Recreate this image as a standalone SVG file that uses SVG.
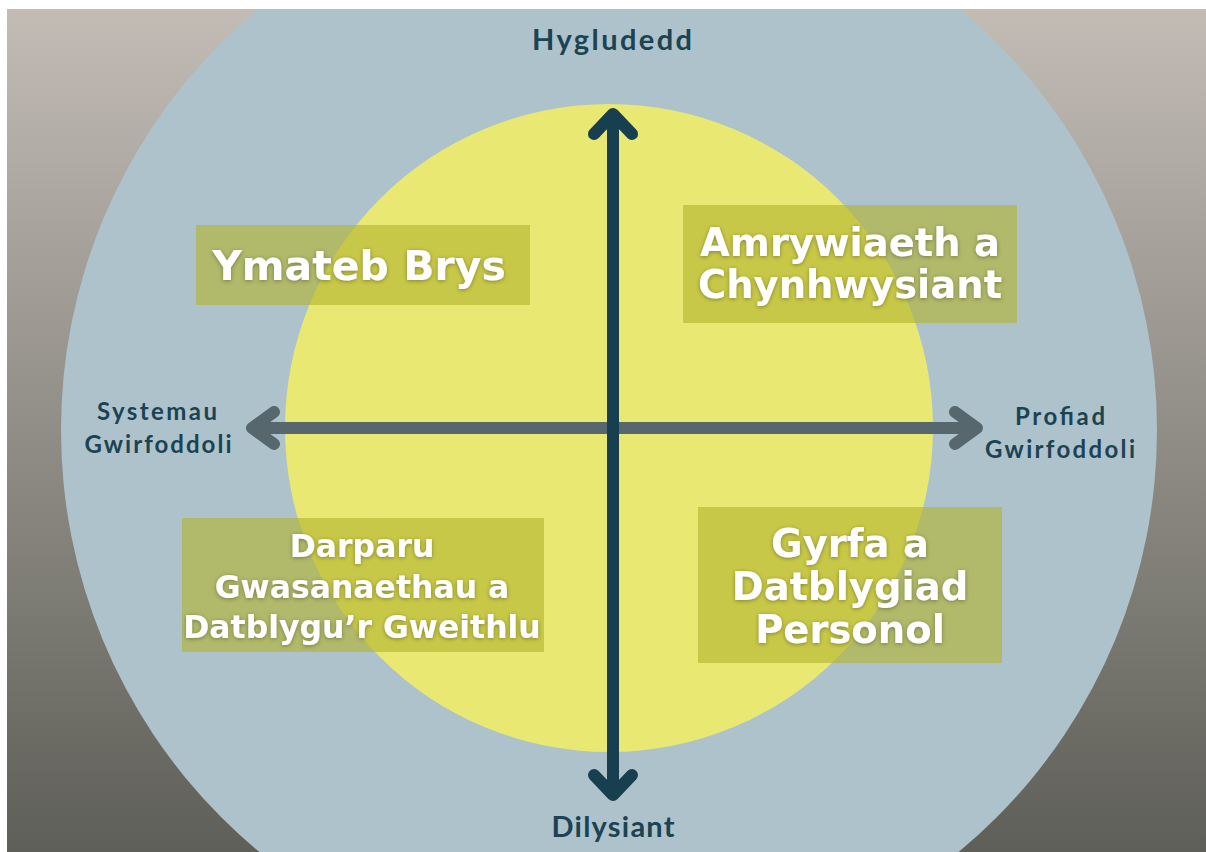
<svg xmlns="http://www.w3.org/2000/svg" width="1206" height="852" viewBox="0 0 1206 852">
  <defs>
    <linearGradient id="bg" x1="0" y1="0" x2="0" y2="1">
      <stop offset="0" stop-color="#c2bcb5"/>
      <stop offset="1" stop-color="#5e5f58"/>
    </linearGradient>
    <clipPath id="frame"><rect x="7" y="9" width="1199" height="843"/></clipPath>
    <filter id="glow" x="-10%" y="-30%" width="120%" height="160%">
      <feDropShadow dx="0" dy="1" stdDeviation="2" flood-color="#4a4a20" flood-opacity="0.55"/>
    </filter>
    <marker id="chevV" markerUnits="userSpaceOnUse" viewBox="-30 -30 40 60" markerWidth="40" markerHeight="60" refX="0" refY="0" orient="auto-start-reverse" overflow="visible">
      <path d="M-20 -19 L0 0 L-20 19" fill="none" stroke="#173f4f" stroke-width="12" stroke-linecap="round" stroke-linejoin="round"/>
    </marker>
    <marker id="chevH" markerUnits="userSpaceOnUse" viewBox="-30 -30 40 60" markerWidth="40" markerHeight="60" refX="0" refY="0" orient="auto-start-reverse" overflow="visible">
      <path d="M-22 -16 L0 0 L-22 16" fill="none" stroke="#56676e" stroke-width="12" stroke-linecap="round" stroke-linejoin="round"/>
    </marker>
  </defs>
  <style>
    .axis { font-family: Lato, "Liberation Sans", sans-serif; font-weight: 700; fill: #1b4352; text-anchor: middle; }
    .box { fill: #b2b22c; fill-opacity: 0.6; }
    .boxtext { font-family: "DejaVu Sans", "Liberation Sans", sans-serif; font-weight: 700; fill: #ffffff; text-anchor: middle; filter: url(#glow); }
  </style>

  <rect x="0" y="0" width="1206" height="852" fill="#ffffff"/>
  <g clip-path="url(#frame)">
    <rect x="7" y="9" width="1199" height="843" fill="url(#bg)"/>
    <circle cx="609" cy="430" r="548" fill="#aec2cb"/>
    <circle cx="609" cy="428" r="324" fill="#e8e873"/>
  </g>

  <g id="connectors">
    <line x1="252" y1="428" x2="977" y2="428" stroke="#56676e" stroke-width="12" marker-start="url(#chevH)" marker-end="url(#chevH)"/>
    <line x1="613" y1="795" x2="613" y2="114" stroke="#173f4f" stroke-width="12" marker-start="url(#chevV)" marker-end="url(#chevV)"/>
  </g>

  <g id="label-top"><text class="axis" x="612" y="50" font-size="29" textLength="160" lengthAdjust="spacing">Hygludedd</text></g>
  <g id="label-bottom"><text class="axis" x="613" y="837" font-size="29" textLength="123" lengthAdjust="spacing">Dilysiant</text></g>
  <g id="label-left">
    <text class="axis" x="157" y="420" font-size="24" textLength="120" lengthAdjust="spacing">Systemau</text>
    <text class="axis" x="158" y="453" font-size="24" textLength="147" lengthAdjust="spacing">Gwirfoddoli</text>
  </g>
  <g id="label-right">
    <text class="axis" x="1060" y="425" font-size="24" textLength="90" lengthAdjust="spacing">Profiad</text>
    <text class="axis" x="1060" y="458" font-size="24" textLength="150" lengthAdjust="spacing">Gwirfoddoli</text>
  </g>

  <g id="node-ymateb">
    <rect class="box" x="196" y="225" width="334" height="80"/>
    <text class="boxtext" x="359" y="280" font-size="41">Ymateb Brys</text>
  </g>
  <g id="node-amrywiaeth">
    <rect class="box" x="683" y="205" width="334" height="118"/>
    <text class="boxtext" x="850" y="256" font-size="38.5">Amrywiaeth a</text>
    <text class="boxtext" x="850" y="298" font-size="38.5">Chynhwysiant</text>
  </g>
  <g id="node-darparu">
    <rect class="box" x="182" y="518" width="362" height="134"/>
    <text class="boxtext" x="362" y="557" font-size="31.5">Darparu</text>
    <text class="boxtext" x="362" y="598" font-size="31.5">Gwasanaethau a</text>
    <text class="boxtext" x="362" y="638" font-size="31.5">Datblygu’r Gweithlu</text>
  </g>
  <g id="node-gyrfa">
    <rect class="box" x="698" y="507" width="304" height="156"/>
    <text class="boxtext" x="850" y="557" font-size="38.5">Gyrfa a</text>
    <text class="boxtext" x="850" y="600" font-size="38.5">Datblygiad</text>
    <text class="boxtext" x="850" y="643" font-size="38.5">Personol</text>
  </g>
</svg>
